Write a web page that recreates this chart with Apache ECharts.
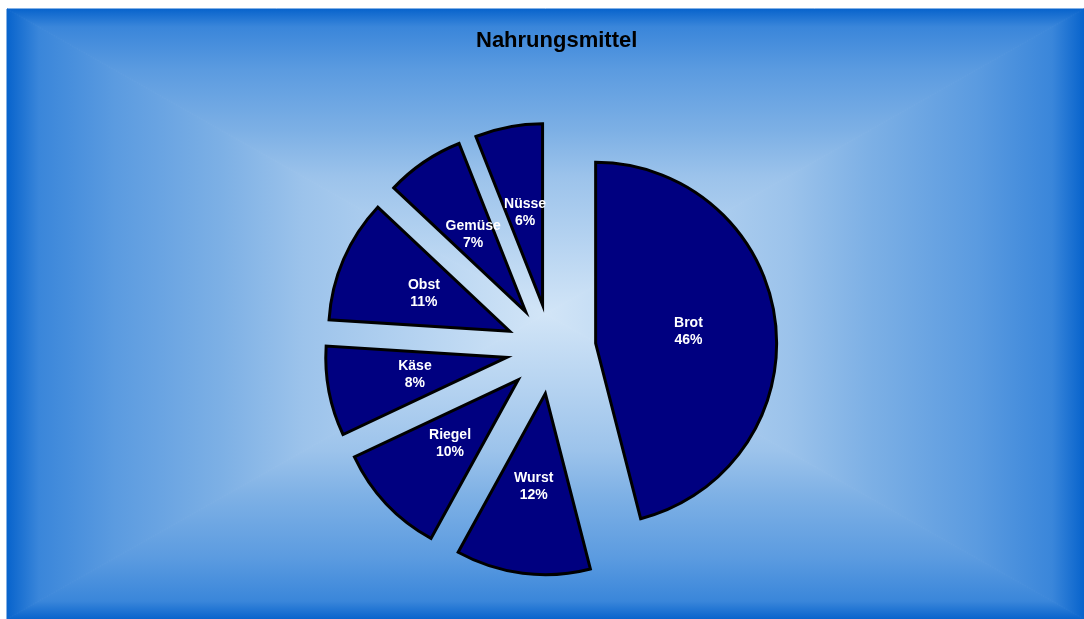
<!DOCTYPE html>
<html>
<head>
<meta charset="utf-8">
<script src="https://cdn.jsdelivr.net/npm/echarts@6/dist/echarts.min.js"></script>
<style>
  html, body { margin: 0; padding: 0; background: #ffffff; }
  #chart { width: 1084px; height: 619px; }
</style>
</head>
<body>
<div id="chart"></div>
<script>
// data
const chartTitle = 'Nahrungsmittel'
const categories = ['Brot', 'Wurst', 'Riegel', 'Käse', 'Obst', 'Gemüse', 'Nüsse']
const shares = [46, 12, 10, 8, 11, 7, 6]

// background area (rectangular "from centre" gradient, like the office chart)
const bg = { x0: 7, y0: 9, x1: 1084, y1: 619 }
const bgCx = (bg.x0 + bg.x1) / 2
const bgCy = (bg.y0 + bg.y1) / 2
const edgeToCentre = [
  { offset: 0, color: '#0763cc' },
  { offset: 0.06, color: '#3a86da' },
  { offset: 0.2, color: '#5b9be0' },
  { offset: 0.4, color: '#7db0e5' },
  { offset: 0.55, color: '#9cc3eb' },
  { offset: 1, color: '#d2e5f7' }
]

function grad(x, y, x2, y2) {
  return { type: 'linear', x: x, y: y, x2: x2, y2: y2, colorStops: edgeToCentre }
}

function bgPart(points, g) {
  return {
    type: 'polygon', z: 0, silent: true,
    shape: { points: points },
    style: { fill: g, stroke: g, lineWidth: 1 }
  }
}

const chart = echarts.init(document.getElementById('chart'), null, { renderer: 'canvas' })

const pieData = categories.map((name, i) => ({
  name: name,
  value: shares[i],
  selected: true
}))

chart.setOption({
  animation: false,
  backgroundColor: '#ffffff',
  title: {
    text: chartTitle,
    left: 476,
    top: 30,
    padding: 0,
    textStyle: {
      fontFamily: 'Liberation Sans, Arial, sans-serif',
      fontSize: 22,
      fontWeight: 'bold',
      color: '#000000'
    }
  },
  graphic: [
    bgPart([[bg.x0, bg.y0], [bg.x1, bg.y0], [bgCx, bgCy]], grad(0, 0, 0, 1)), // top
    bgPart([[bg.x0, bg.y1], [bg.x1, bg.y1], [bgCx, bgCy]], grad(0, 1, 0, 0)), // bottom
    bgPart([[bg.x0, bg.y0], [bg.x0, bg.y1], [bgCx, bgCy]], grad(0, 0, 1, 0)), // left
    bgPart([[bg.x1, bg.y0], [bg.x1, bg.y1], [bgCx, bgCy]], grad(1, 0, 0, 0))  // right
  ],
  labelLayout: { hideOverlap: false },
  series: [
    {
      type: 'pie',
      center: [551, 349],
      radius: [0, 181],
      startAngle: 90,
      clockwise: true,
      selectedMode: 'multiple',
      selectedOffset: 45,
      avoidLabelOverlap: false,
      minShowLabelAngle: 0,
      labelLayout: { hideOverlap: false },
      itemStyle: {
        color: '#000080',
        borderColor: '#000000',
        borderWidth: 3,
        borderJoin: 'miter'
      },
      label: {
        show: true,
        position: 'inside',
        color: '#ffffff',
        fontFamily: 'Liberation Sans, Arial, sans-serif',
        fontSize: 14,
        fontWeight: 'bold',
        lineHeight: 17,
        formatter: p => p.name + '\n' + Math.round(p.percent) + '%'
      },
      labelLine: { show: false },
      emphasis: { disabled: true, scale: false },
      select: {
        itemStyle: { color: '#000080', borderColor: '#000000', borderWidth: 3 },
        label: { color: '#ffffff' }
      },
      data: pieData
    }
  ]
})
</script>
</body>
</html>
